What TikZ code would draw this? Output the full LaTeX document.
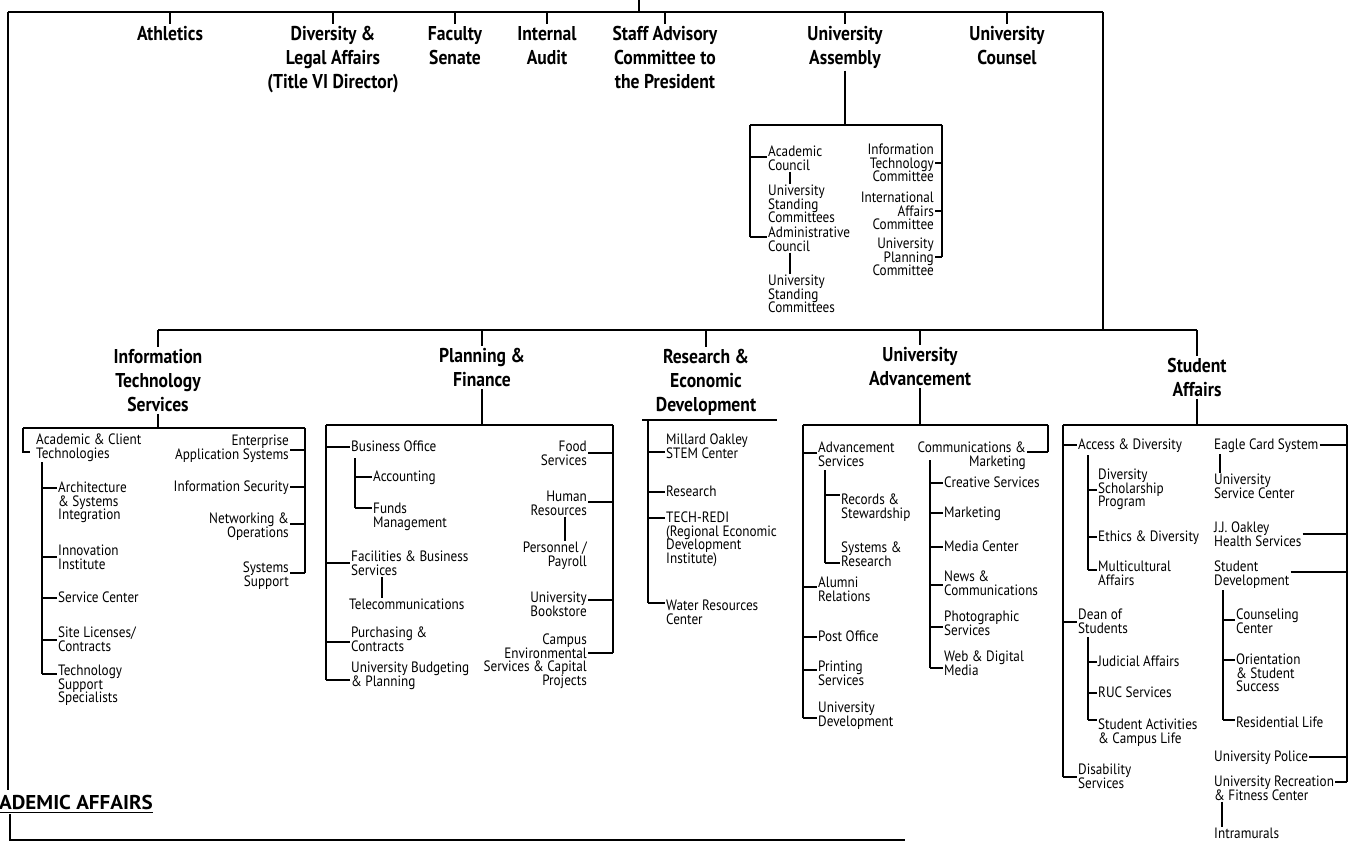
\documentclass[tikz,border=0pt]{standalone}
\usepackage{fontspec}
\setmainfont[FakeStretch=0.88]{PT Sans}
\newfontfamily\widef[FakeStretch=1.05]{PT Sans}
\newcommand\itf{\fontsize{15}{13.5}\selectfont\lineskiplimit=-20pt\lineskip=0pt}
\newcommand\hdf{\fontsize{20}{24}\selectfont\bfseries\lineskiplimit=-20pt\lineskip=0pt}
\newcommand\conL[3]{\draw[sub] (#1 |- 0,#3) -- (#2.west |- 0,#3);}
\newcommand\conR[3]{\draw[sub] (#2.east |- 0,#3) -- (#1 |- 0,#3);}
\newcommand\vlink[3]{\draw[sub] (#1,0 |- #2.south) -- (#1,0 |- #3.north);}
\begin{document}
\begin{tikzpicture}[x=1pt,y=-1pt,
  mainl/.style={line width=1.8pt},
  sub/.style={line width=1.2pt},
  thk/.style={line width=2.4pt},
  it/.style={font=\itf, align=left, anchor=north west, inner sep=1pt, yshift=7pt},
  itr/.style={it, align=right, anchor=north east},
  hd/.style={font=\hdf, align=center, anchor=north, inner sep=2pt, yshift=10pt}]
\useasboundingbox (0,0) rectangle (1356,846);
\fill[white] (0,0) rectangle (1356,846);

% ---------- top level ----------
\coordinate (TL) at (8,12);
\coordinate (TR) at (1103,12);
\coordinate (P) at (639,0);
\coordinate (AAtop) at (8,790);
\coordinate (VR) at (1103,330);
\draw[mainl] (TL) -- (TR);
\draw[mainl] (P) -- (P |- TL);
\draw[mainl] (TL) -- (AAtop);
\draw[mainl] (TR) -- (VR);

\node[hd] (ath) at (170,34) {Athletics};
\node[hd] (div) at (333,34) {Diversity \&\\Legal Affairs\\(Title VI Director)};
\node[hd] (fs)  at (455,34) {Faculty\\Senate};
\node[hd] (ia)  at (547,34) {Internal\\Audit};
\node[hd] (sac) at (665,34) {Staff Advisory\\Committee to\\the President};
\node[hd] (uas) at (845,34) {University\\Assembly};
\node[hd] (uc)  at (1007,34) {University\\Counsel};
\foreach \n in {ath,div,fs,ia,sac,uas,uc} \draw[mainl] (\n.north |- TL) -- (\n.north);

% ---------- University Assembly box ----------
\coordinate (uaL) at (750,125);
\coordinate (uaR) at (942,125);
\draw[mainl] (uas.south) -- (uas.south |- uaL);
\draw[mainl] (uaL) -- (uaR);
\draw[sub] (uaL) -- (uaL |- 0,237);
\draw[sub] (uaR) -- (uaR |- 0,257);
\node[it] (acc)  at (767,152) {Academic\\Council};
\node[it] (usc1) at (767,191) {University\\Standing\\Committees};
\node[it] (adc)  at (767,233) {Administrative\\Council};
\node[it] (usc2) at (767,281) {University\\Standing\\Committees};
\conL{uaL}{acc}{157}
\conL{uaL}{adc}{237}
\vlink{790}{acc}{usc1}
\vlink{790}{adc}{usc2}
\node[itr] (itc) at (935,150) {Information\\Technology\\Committee};
\node[itr] (iac) at (935,198) {International\\Affairs\\Committee};
\node[itr] (upc) at (935,244) {University\\Planning\\Committee};
\conR{uaR}{itc}{163}
\conR{uaR}{iac}{211}
\conR{uaR}{upc}{257}

% ---------- VP level ----------
\node[hd] (its)  at (158,357) {Information\\Technology\\Services};
\node[hd] (pf)   at (482,356) {Planning \&\\Finance};
\node[hd] (red)  at (706,357) {Research \&\\Economic\\Development};
\node[hd] (uadv) at (920,355) {University\\Advancement};
\node[hd] (sa)   at (1197,366) {Student\\Affairs};
\draw[mainl] (its.north |- VR) -- (sa.north |- VR);
\foreach \n in {its,pf,red,uadv,sa} \draw[mainl] (\n.north |- VR) -- (\n.north);

% ---------- IT Services ----------
\coordinate (itL) at (23,428);
\coordinate (itR) at (305,428);
\coordinate (itS) at (42,462);
\draw[mainl] (its.south) -- (its.south |- itL);
\draw[mainl] (itL) -- (itR);
\draw[sub] (itL) -- (itL |- 0,452) -- ++(7,0);
\node[it] (act) at (35,440) {Academic \& Client\\Technologies};
\draw[sub] (itS) -- (itS |- 0,674);
\node[it] (asi) at (57,488) {Architecture\\\& Systems\\Integration};
\node[it] (ii)  at (57,551) {Innovation\\Institute};
\node[it] (sc)  at (57,598) {Service Center};
\node[it] (sl)  at (57,633) {Site Licenses/\\Contracts};
\node[it] (tss) at (57,671) {Technology\\Support\\Specialists};
\conL{itS}{asi}{488}
\conL{itS}{ii}{557}
\conL{itS}{sc}{598}
\conL{itS}{sl}{640}
\conL{itS}{tss}{674}
\draw[sub] (itR) -- (itR |- 0,573);
\node[itr] (eas)  at (290,441) {Enterprise\\Application Systems};
\node[itr] (isec) at (290,487) {Information Security};
\node[itr] (no)   at (290,519) {Networking \&\\Operations};
\node[itr] (ss)   at (290,568) {Systems\\Support};
\conR{itR}{eas}{450}
\conR{itR}{isec}{487}
\conR{itR}{no}{524}
\conR{itR}{ss}{573}

% ---------- Planning & Finance ----------
\coordinate (pfL) at (326,425);
\coordinate (pfR) at (613,425);
\coordinate (pfS) at (355,458);
\draw[mainl] (pf.south) -- (pf.south |- pfL);
\draw[mainl] (pfL) -- (pfR);
\draw[sub] (pfL) -- (pfL |- 0,680);
\draw[sub] (pfR) -- (pfR |- 0,653);
\node[it] (bo)   at (350,447) {Business Office};
\node[it] (acct) at (372,477) {Accounting};
\node[it] (fm)   at (372,509) {Funds\\Management};
\node[it] (fbs)  at (350,557) {Facilities \& Business\\Services};
\node[it] (tel)  at (348,605) {Telecommunications};
\node[it] (pc)   at (350,633) {Purchasing \&\\Contracts};
\node[it] (ubp)  at (350,668) {University Budgeting\\\& Planning};
\conL{pfL}{bo}{447}
\draw[sub] (pfS) -- (pfS |- 0,508);
\conL{pfS}{acct}{477}
\conL{pfS}{fm}{508}
\conL{pfL}{fbs}{563}
\vlink{382}{fbs}{tel}
\conL{pfL}{pc}{642}
\conL{pfL}{ubp}{680}
\node[itr] (fsv) at (588,447) {Food\\Services};
\node[itr] (hr)  at (588,497) {Human\\Resources};
\node[itr] (pp)  at (588,548) {Personnel /\\Payroll};
\node[itr] (ub)  at (588,598) {University\\Bookstore};
\node[itr] (ces) at (588,640) {Campus\\Environmental\\Services \& Capital\\Projects};
\draw[mainl] (fsv.east |- 0,453) -- (pfR |- 0,453);
\conR{pfR}{hr}{502}
\vlink{565}{hr}{pp}
\conR{pfR}{ub}{600}
\draw[mainl] (ces.east |- 0,653) -- (pfR |- 0,653);

% ---------- Research & Economic Development ----------
\coordinate (reL) at (648,420);
\coordinate (reU) at (642,420);
\coordinate (reE) at (777,420);
\draw[mainl] (reU) -- (reE);
\draw[mainl] (reL) -- (reL |- 0,603);
\node[it] (moc) at (665,440) {Millard Oakley\\STEM Center};
\node[it] (res) at (665,492) {Research};
\node[it] (tr)  at (665,518) {TECH-REDI\\(Regional Economic\\Development\\Institute)};
\node[it] (wrc) at (665,606) {Water Resources\\Center};
\conL{reL}{moc}{452}
\conL{reL}{res}{492}
\conL{reL}{tr}{518}
\conL{reL}{wrc}{603}

% ---------- University Advancement ----------
\coordinate (avL) at (803,425);
\coordinate (avR) at (1048,425);
\coordinate (avS) at (825,470);
\coordinate (avS2) at (930,460);
\draw[thk] (uadv.south) -- (uadv.south |- avL);
\draw[mainl] (avL) -- (avR);
\draw[mainl] (avL) -- (avL |- 0,718);
\draw[sub] (avR) -- (avR |- 0,452);
\node[it] (as) at (817,448) {Advancement\\Services};
\node[it] (rs) at (840,500) {Records \&\\Stewardship};
\node[it] (sr) at (840,548) {Systems \&\\Research};
\node[it] (ar) at (817,583) {Alumni\\Relations};
\node[it] (po) at (817,637) {Post Office};
\node[it] (ps) at (817,667) {Printing\\Services};
\node[it] (ud) at (817,708) {University\\Development};
\conL{avL}{as}{453}
\draw[sub] (avS) -- (avS |- 0,563);
\conL{avS}{rs}{495}
\conL{avS}{sr}{563}
\conL{avL}{ar}{587}
\conL{avL}{po}{637}
\conL{avL}{ps}{670}
\conL{avL}{ud}{718}
\node[itr] (cm) at (1027,448) {Communications \&\\Marketing};
\conR{avR}{cm}{452}
\draw[mainl] (avS2) -- (avS2 |- 0,668);
\node[it] (crs) at (943,483) {Creative Services};
\node[it] (mk)  at (943,513) {Marketing};
\node[it] (mc)  at (943,547) {Media Center};
\node[it] (nc)  at (943,577) {News \&\\Communications};
\node[it] (phs) at (943,617) {Photographic\\Services};
\node[it] (wdm) at (943,657) {Web \& Digital\\Media};
\conL{avS2}{crs}{483}
\conL{avS2}{mk}{513}
\conL{avS2}{mc}{547}
\conL{avS2}{nc}{585}
\conL{avS2}{phs}{627}
\conL{avS2}{wdm}{668}

% ---------- Student Affairs ----------
\coordinate (saL) at (1063,425);
\coordinate (saR) at (1347,425);
\coordinate (saS1) at (1088,455);
\coordinate (saS2) at (1088,637);
\coordinate (saS3) at (1223,590);
\draw[mainl] (sa.south) -- (sa.south |- saL);
\draw[mainl] (saL) -- (saR);
\draw[sub] (saL) -- (saL |- 0,777);
\draw[mainl] (saR) -- (saR |- 0,782);
\node[it] (ad)   at (1077,445) {Access \& Diversity};
\node[it] (dsp)  at (1097,475) {Diversity\\Scholarship\\Program};
\node[it] (ed)   at (1097,537) {Ethics \& Diversity};
\node[it] (mca)  at (1097,567) {Multicultural\\Affairs};
\node[it] (dos)  at (1077,615) {Dean of\\Students};
\node[it] (ja)   at (1097,662) {Judicial Affairs};
\node[it] (ruc)  at (1097,693) {RUC Services};
\node[it] (sacl) at (1097,725) {Student Activities\\\& Campus Life};
\node[it] (ds)   at (1077,770) {Disability\\Services};
\conL{saL}{ad}{445}
\draw[sub] (saS1) -- (saS1 |- 0,570);
\conL{saS1}{dsp}{490}
\conL{saS1}{ed}{537}
\conL{saS1}{mca}{570}
\conL{saL}{dos}{622}
\draw[sub] (saS2) -- (saS2 |- 0,720);
\conL{saS2}{ja}{662}
\conL{saS2}{ruc}{693}
\conL{saS2}{sacl}{720}
\conL{saL}{ds}{777}
\node[it] (ecs)  at (1213,445) {Eagle Card System};
\node[it] (usc3) at (1213,480) {University\\Service Center};
\node[it] (jj)   at (1213,528) {J.J. Oakley\\Health Services};
\node[it] (sd)   at (1213,567) {Student\\Development};
\node[it] (cc)   at (1235,615) {Counseling\\Center};
\node[it] (oss)  at (1235,660) {Orientation\\\& Student\\Success};
\node[it] (rl)   at (1235,723) {Residential Life};
\node[it] (upol) at (1213,757) {University Police};
\node[it] (urf)  at (1213,782) {University Recreation\\\& Fitness Center};
\node[it] (intr) at (1213,834) {Intramurals};
\conR{saR}{ecs}{445}
\vlink{1220}{ecs}{usc3}
\conR{saR}{jj}{534}
\draw[thk] (sd.east |- 0,572) -- (saR |- 0,572);
\draw[sub] (saS3) -- (saS3 |- 0,720);
\conL{saS3}{cc}{620}
\conL{saS3}{oss}{660}
\conL{saS3}{rl}{720}
\conR{saR}{upol}{757}
\conR{saR}{urf}{782}
\vlink{1222}{urf}{intr}

% ---------- Academic Affairs (cropped) ----------
\node[font=\fontsize{20}{22}\selectfont\widef\bfseries, anchor=west, inner sep=0pt] (aa) at (-1,802) {ADEMIC AFFAIRS};
\draw[sub] ([yshift=-3pt]aa.south west) -- ([yshift=-3pt]aa.south east);
\coordinate (aaB) at (10,814);
\coordinate (aaE) at (905,840);
\draw[mainl] (aaB) |- (aaE);
\end{tikzpicture}
\end{document}
